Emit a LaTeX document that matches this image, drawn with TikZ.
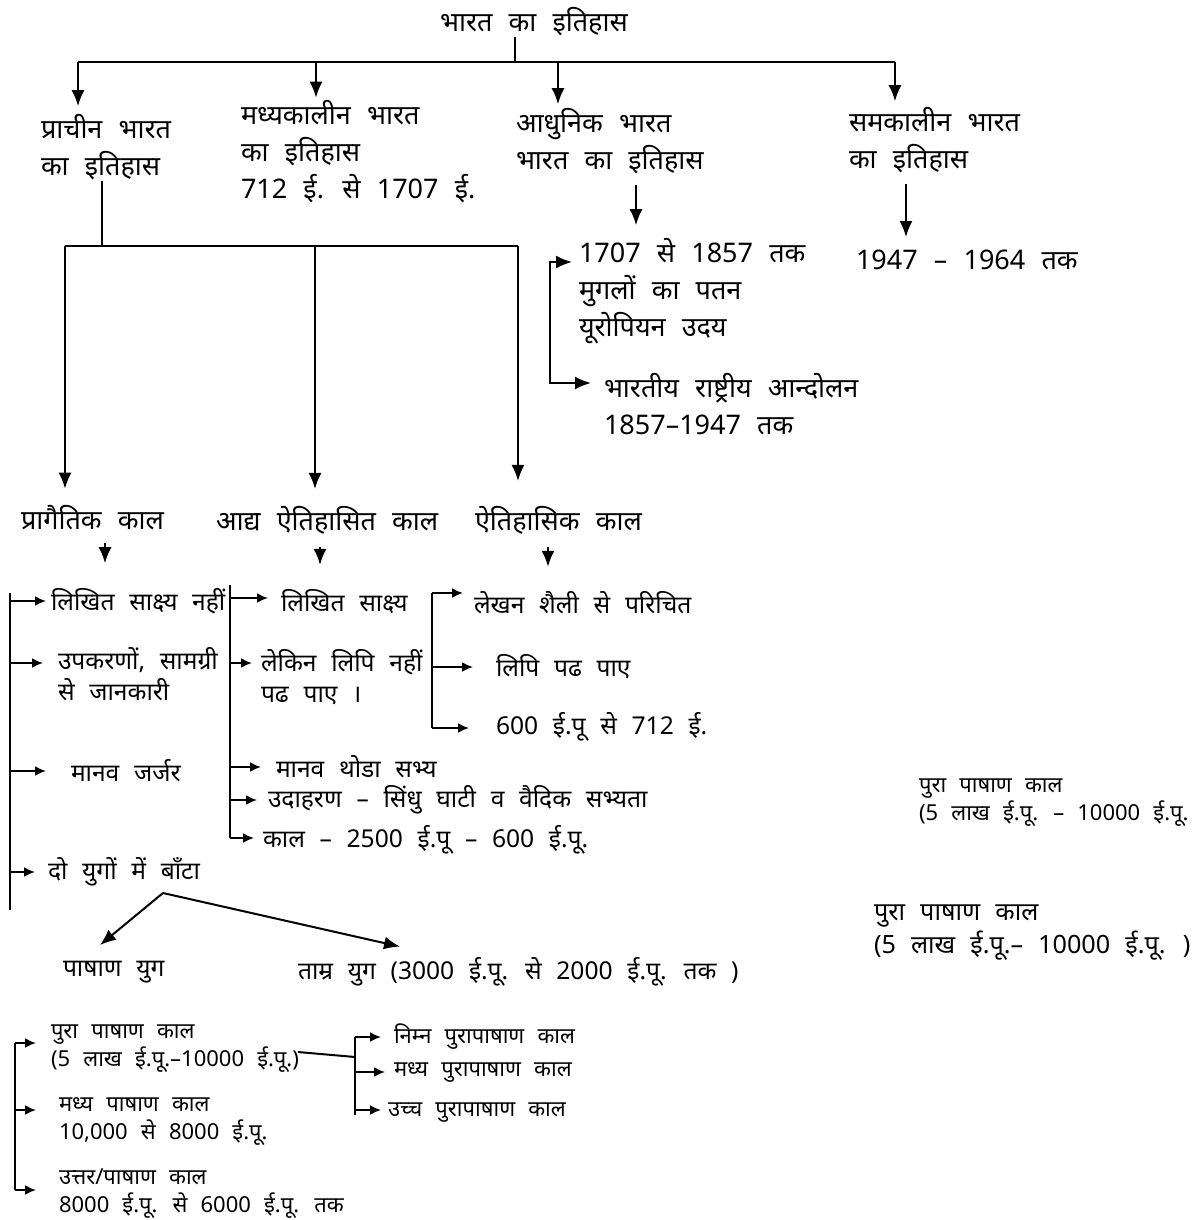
\documentclass[tikz,border=0pt]{standalone}
\usepackage{fontspec}
\setmainfont{Noto Sans}
\newfontfamily\hindi[Script=Devanagari,WordSpace=2.3]{Noto Sans}
\usetikzlibrary{arrows.meta}

\begin{document}
\begin{tikzpicture}[x=0.5pt, y=-0.5pt, line width=1pt,
  >={Latex[length=8pt,width=6.5pt]},
  sm/.style={-{Latex[length=5.5pt,width=5pt]}},
  every node/.style={inner sep=0pt, anchor=west, align=left},
  big/.style={font=\hindi\fontsize{13.5}{18.5}\selectfont},
  mid/.style={font=\hindi\fontsize{12.3}{15.5}\selectfont},
  low/.style={font=\hindi\fontsize{11}{14}\selectfont}]

\useasboundingbox (0,0) rectangle (1200,1220);

% Top level
\node[big, anchor=center] (root) at (534,22) {भारत का इतिहास};
\node[big] (prachin) at (40,147) {प्राचीन भारत\\का इतिहास};
\node[big] (madhya) at (240,152) {मध्यकालीन भारत\\का इतिहास\\712 ई. से 1707 ई.};
\node[big] (adhunik) at (515,141) {आधुनिक भारत\\भारत का इतिहास};
\node[big] (samkal) at (848,140) {समकालीन भारत\\का इतिहास};

\coordinate (hub) at (515,62);
\coordinate (barL) at (78,62);
\coordinate (barR) at (895,62);
\coordinate (dM) at (316,62);
\coordinate (dA) at (558,62);
\draw (root.south -| hub) -- (hub);
\draw (barL) -- (barR);
\draw[->, shorten >=3.5pt] (barL) -- (barL |- prachin.north);
\draw[->, shorten >=1pt] (dM) -- (dM |- madhya.north);
\draw[->, shorten >=1.5pt] (dA) -- (dA |- adhunik.north);
\draw[->, shorten >=2.5pt] (barR) -- (barR |- samkal.north);

% Modern and contemporary
\node[big] (mughal) at (578,291) {1707 से 1857 तक\\मुगलों का पतन\\यूरोपियन उदय};
\node[big] (rashtra) at (603,404) {भारतीय राष्ट्रीय आन्दोलन\\1857–1947 तक};
\node[big] (samyr) at (855,260) {1947 – 1964 तक};

\coordinate (aS) at (636,0);
\coordinate (sS) at (906,0);
\draw[->, shorten <=5pt, shorten >=6pt] (adhunik.south -| aS) -- (aS |- mughal.north);
\draw[->, shorten <=5pt, shorten >=6pt] (samkal.south -| sS) -- (sS |- samyr.north);
\coordinate (mT) at (550,262);
\coordinate (mB) at (550,383);
\draw[<->, shorten <=3pt, shorten >=6pt] (mughal.west |- mT) -- (mT) -- (mB) -- (rashtra.west |- mB);

% Ancient India
\node[big] (prag) at (20,518) {प्रागैतिक काल};
\node[big] (aadya) at (215,520) {आद्य ऐतिहासित काल};
\node[big] (aiti) at (474,520) {ऐतिहासिक काल};

\coordinate (pS) at (102,246);
\coordinate (rowL) at (65,246);
\coordinate (rowM) at (315,246);
\coordinate (rowR) at (518,246);
\draw (prachin.south -| pS) -- (pS);
\draw (rowL) -- (rowR);
\draw[->, shorten >=8pt] (rowL) -- (rowL |- prag.north);
\draw[->, shorten >=8pt] (rowM) -- (rowM |- aadya.north);
\draw[->, shorten >=12pt] (rowR) -- (rowR |- aiti.north);

% Columns under the three periods
\node[mid] (c1a) at (50,601) {लिखित साक्ष्य नहीं};
\node[mid] (c1b) at (57,674) {उपकरणों, सामग्री\\से जानकारी};
\node[mid] (c1c) at (70,771) {मानव जर्जर};
\node[mid] (c1d) at (47,872) {दो युगों में बाँटा};

\node[mid] (c2a) at (280,602) {लिखित साक्ष्य};
\node[mid] (c2b) at (260,677) {लेकिन लिपि नहीं\\पढ पाए ।};
\node[mid] (c2c) at (275,767) {मानव थोडा सभ्य};
\node[mid] (c2d) at (267,800) {उदाहरण – सिंधु घाटी व वैदिक सभ्यता};
\node[mid] (c2e) at (262,840) {काल – 2500 ई.पू – 600 ई.पू.};

\node[mid] (c3a) at (473,603) {लेखन शैली से परिचित};
\node[mid] (c3b) at (495,667) {लिपि पढ पाए};
\node[mid] (c3c) at (495,727) {600 ई.पू से 712 ई.};

\coordinate (k1) at (105,0);
\coordinate (k2) at (320,0);
\coordinate (k3) at (548,0);
\draw[->, shorten <=6pt, shorten >=12pt] (prag.south -| k1) -- (k1 |- c1a.north);
\draw[->, shorten <=6pt, shorten >=12pt] (aadya.south -| k2) -- (k2 |- c2a.north);
\draw[->, shorten <=6pt, shorten >=12pt] (aiti.south -| k3) -- (k3 |- c3a.north);

\coordinate (b1T) at (10,593);
\coordinate (b1B) at (10,910);
\draw (b1T) -- (b1B);
\draw[sm, shorten >=2pt] (b1T |- c1a) -- (c1a);
\draw[sm, shorten >=7pt] (b1T |- 0,663) -- (c1b.west |- 0,663);
\draw[sm, shorten >=12pt] (b1T |- c1c) -- (c1c);
\draw[sm, shorten >=6pt] (b1T |- c1d) -- (c1d);

\coordinate (b2T) at (230,585);
\coordinate (b2B) at (230,838);
\draw (b2T) -- (b2B);
\draw[sm, shorten >=6pt] (b2T |- 0,598) -- (c2a.west |- 0,598);
\draw[sm, shorten >=4pt] (b2T |- 0,663) -- (c2b.west |- 0,663);
\draw[sm, shorten >=7pt] (b2T |- c2c) -- (c2c);
\draw[sm, shorten >=5pt] (b2T |- c2d) -- (c2d);
\draw[sm, shorten >=4pt] (b2B) -- (c2e.west |- b2B);

\coordinate (b3T) at (432,593);
\coordinate (b3B) at (432,728);
\draw (b3T) -- (b3B);
\draw[sm, shorten >=5pt] (b3T) -- (c3a.west |- b3T);
\draw[sm, shorten >=11pt] (b3T |- c3b) -- (c3b);
\draw[sm, shorten >=13pt] (b3B) -- (c3c.west |- b3B);

% Two ages
\node[mid] (pashan) at (62,972) {पाषाण युग};
\node[mid] (tamra) at (297,972) {ताम्र युग (3000 ई.पू. से 2000 ई.पू. तक )};
\coordinate (split) at (163,893);
\draw[->] (split) -- ([shift={(38,-15)}]pashan.north west);
\draw[->] (split) -- ([shift={(103,-10)}]tamra.north west);

% Loose notes on the right
\node[low] (note1) at (918,803) {पुरा पाषाण काल\\(5 लाख ई.पू. – 10000 ई.पू.};
\node[mid, font=\hindi\fontsize{12.6}{16.5}\selectfont] (note2) at (873,933) {पुरा पाषाण काल\\(5 लाख ई.पू.– 10000 ई.पू. )};

% Stone age periods
\node[low] (p1) at (50,1049) {पुरा पाषाण काल\\(5 लाख ई.पू.–10000 ई.पू.)};
\node[low] (p2) at (58,1122) {मध्य पाषाण काल\\10,000 से 8000 ई.पू.};
\node[low] (p3) at (58,1194) {उत्तर/पाषाण काल\\8000 ई.पू. से 6000 ई.पू. तक};

\coordinate (b4T) at (15,1043);
\coordinate (b4B) at (15,1190);
\draw (b4T) -- (b4B);
\draw[sm, shorten >=7pt] (b4T) -- (p1.west |- b4T);
\draw[sm, shorten >=11pt] (b4T |- 0,1110) -- (p2.west |- 0,1110);
\draw[sm, shorten >=11pt] (b4B) -- (p3.west |- b4B);

\node[low] (s1) at (393,1037) {निम्न पुरापाषाण काल};
\node[low] (s2) at (393,1072) {मध्य पुरापाषाण काल};
\node[low] (s3) at (387,1113) {उच्च पुरापाषाण काल};

\coordinate (b5T) at (355,1037);
\coordinate (b5B) at (355,1115);
\coordinate (b5J) at (355,1057);
\draw ([shift={(-2,3)}]p1.east) -- (b5J);
\draw (b5T) -- (b5B);
\draw[sm, shorten >=6pt] (b5T) -- (s1.west |- b5T);
\draw[sm, shorten >=4pt] (b5T |- s2) -- (s2);
\draw[sm, shorten >=3pt] (b5T |- 0,1110) -- (s3.west |- 0,1110);

\end{tikzpicture}
\end{document}
